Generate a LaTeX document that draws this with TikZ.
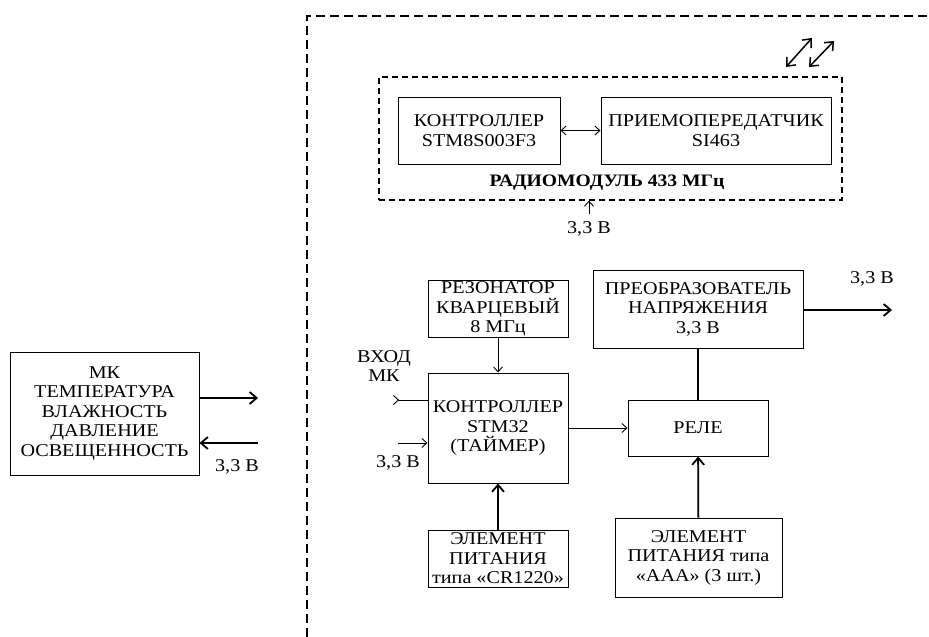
\documentclass[tikz,border=0pt]{standalone}
\usepackage{fontspec}
\setmainfont{Liberation Serif}[FakeStretch=1.12]
\usetikzlibrary{arrows.meta}

\begin{document}
\begin{tikzpicture}[
    x=1pt, y=-1pt,
    font=\fontsize{18}{19.5}\selectfont,
    box/.style={rectangle, draw, line width=1pt, align=center, inner sep=1pt},
    frame/.style={draw, line width=1.8pt, dash pattern=on 9pt off 5pt},
    modframe/.style={rectangle, draw, line width=1.2pt, dash pattern=on 6pt off 4pt},
    arrow/.style={-{Straight Barb[length=5pt,width=9pt]}, line width=0.9pt},
    tarrow/.style={-{Straight Barb[length=7pt,width=12pt]}, line width=1.8pt},
    darrow/.style={{Straight Barb[length=5pt,width=9pt]}-{Straight Barb[length=5pt,width=9pt]}, line width=0.9pt},
    antarrow/.style={{Straight Barb[length=7pt,width=12pt]}-{Straight Barb[length=7pt,width=12pt]}, line width=1.5pt}
]
    \useasboundingbox (0,0) rectangle (929,637);

    % Device border
    \draw[frame] (307,637) -- (307,16) -- (929,16);

    % Radio module 433 MHz
    \node[modframe, minimum width=463pt, minimum height=123pt] (radio) at (610.5,138.5) {};
    \node[box, minimum width=162pt, minimum height=67pt] (stm8) at (479,130.5) {КОНТРОЛЛЕР\\STM8S003F3};
    \node[box, minimum width=230pt, minimum height=67pt] (trx) at (716,130.5) {ПРИЕМОПЕРЕДАТЧИК\\SI463};
    \node[font=\fontsize{17.5}{19}\selectfont\bfseries] (radiolbl) at (607,183) {РАДИОМОДУЛЬ 433 МГц};
    \node (radiopwr) at (589,229) {3,3 В};
    \coordinate (radioin) at (589,214);

    % Antenna
    \coordinate (ant1a) at (786,67);
    \coordinate (ant1b) at (812,38);
    \coordinate (ant2a) at (809,67);
    \coordinate (ant2b) at (834,41);

    % Sensor unit
    \node[box, minimum width=189pt, minimum height=123pt] (mk) at (104.5,413.5) {МК\\ТЕМПЕРАТУРА\\ВЛАЖНОСТЬ\\ДАВЛЕНИЕ\\ОСВЕЩЕННОСТЬ};
    \coordinate (mkout) at (258,398);
    \coordinate (mkin) at (258,443);
    \node (mkpwr) at (237,467) {3,3 В};

    % Timer part
    \node[box, minimum width=140pt, minimum height=56pt] (quartz) at (498,309) {РЕЗОНАТОР\\КВАРЦЕВЫЙ\\8 МГц};
    \node[box, minimum width=140pt, minimum height=110pt] (stm32) at (498,428) {КОНТРОЛЛЕР\\STM32\\(ТАЙМЕР)};
    \node[box, minimum width=140pt, minimum height=57pt] (cr1220) at (498,558.5) {ЭЛЕМЕНТ\\ПИТАНИЯ\\типа «CR1220»};
    \node[align=center] (inlbl) at (384,366) {ВХОД\\МК};
    \coordinate (mcuin) at (393,400);
    \coordinate (mcupwr) at (398,443);
    \node (stmpwr) at (398,463) {3,3 В};

    % Power part
    \node[box, minimum width=210pt, minimum height=78pt] (conv) at (698,309) {ПРЕОБРАЗОВАТЕЛЬ\\НАПРЯЖЕНИЯ\\3,3 В};
    \node[box, minimum width=140pt, minimum height=56pt] (rele) at (698,428) {РЕЛЕ};
    \node[box, minimum width=167pt, minimum height=79pt] (aaa) at (698.5,557.5) {ЭЛЕМЕНТ\\ПИТАНИЯ типа\\«ААА» (3 шт.)};
    \coordinate (convout) at (892,310);
    \node (convpwr) at (872,279) {3,3 В};

    % Arrows
    \draw[darrow] (stm8) -- (trx);
    \draw[arrow] (radioin) -- (radioin |- radio.south);
    \draw[antarrow] (ant1a) -- (ant1b);
    \draw[antarrow] (ant2a) -- (ant2b);

    \draw[tarrow] (mk.east |- mkout) -- (mkout);
    \draw[tarrow] (mkin) -- (mk.east |- mkin);

    \draw[arrow] (quartz) -- (stm32);
    \draw[tarrow] (cr1220) -- (stm32);
    \draw[{Straight Barb[reversed,length=5pt,width=9pt]}-, line width=0.9pt] (mcuin) -- (stm32.west |- mcuin);
    \draw[arrow] (mcupwr) -- (stm32.west |- mcupwr);
    \draw[arrow] (stm32) -- (rele);

    \draw[line width=1.8pt] (conv) -- (rele);
    \draw[tarrow] (aaa) -- (rele);
    \draw[tarrow] (conv.east |- convout) -- (convout);
\end{tikzpicture}
\end{document}
